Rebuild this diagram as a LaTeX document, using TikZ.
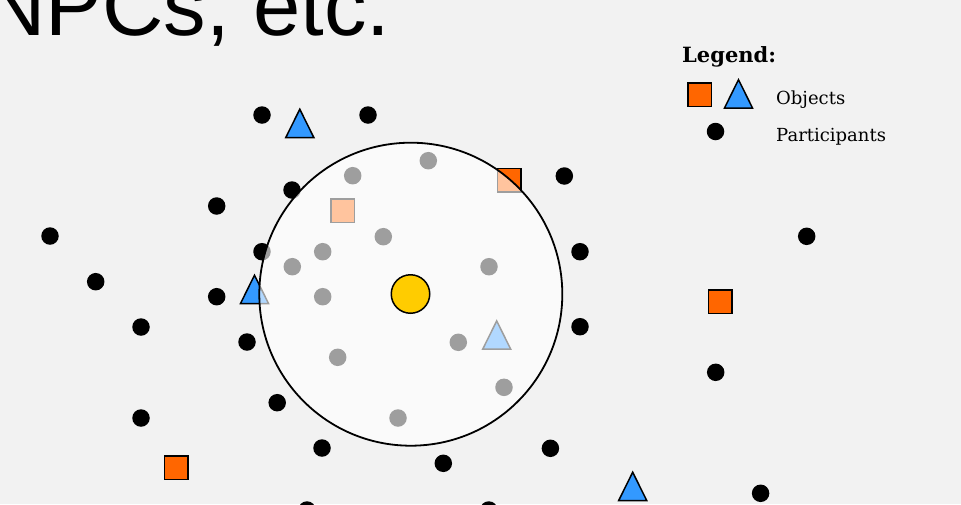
\documentclass[tikz,border=0pt]{standalone}
\usepackage{fontspec}
\setmainfont{DejaVu Serif}
\newfontfamily\titlefont{Liberation Sans}
\definecolor{bgc}{HTML}{F2F2F2}
\definecolor{objorange}{HTML}{FF6600}
\definecolor{objblue}{HTML}{3399FF}
\definecolor{selfyellow}{HTML}{FFCC00}
\tikzset{
  participant/.style={circle, fill=black, minimum size=17.5pt, inner sep=0pt, outer sep=0pt},
  objsquare/.style={rectangle, fill=objorange, draw=black, line width=1.5pt, minimum size=23.5pt, inner sep=0pt},
  objtri/.pic={\draw[fill=objblue, draw=black, line width=1.5pt] (0,-13.8) -- (14,14.5) -- (-14,14.5) -- cycle;},
  rangecircle/.style={circle, fill=white, fill opacity=0.62, draw=black, line width=1.8pt, minimum size=303pt, inner sep=0pt},
  selfnode/.style={circle, fill=selfyellow, draw=black, line width=1.5pt, minimum size=38.5pt, inner sep=0pt},
  legtext/.style={anchor=base west, inner sep=0pt, font=\fontsize{18}{22}\selectfont},
}
\begin{document}
\begin{tikzpicture}[x=1pt, y=-1pt]
\useasboundingbox (0,0) rectangle (961,504);
\fill[bgc] (0,0) rectangle (961,504);
\node[anchor=base west, inner sep=0pt] (title) at (-16,35) {\titlefont\fontsize{85}{95}\selectfont NPCs, etc.};
% participants
\foreach \px/\py [count=\i] in {262/115, 368/115, 292/190, 216.7/206, 50/236, 95.7/281.7, 262/251.7, 216.7/296.7, 141/327, 247/342, 277.2/402.7, 141/418, 322/448, 443.3/463.3, 550.4/448.3, 564.3/176, 580/251.7, 580/326.7, 806.7/236.3, 715.7/372.3, 760.6/493.3, 307/510, 488.8/510, 428.3/160.7, 352.7/175.7, 383.3/236.7, 322.7/251.7, 292.3/266.7, 489/266.7, 322.7/296.7, 458.3/342.3, 337.7/357.3, 504/387.3, 398/418}
  {\node[participant] (p\i) at (\px,\py) {};}
% objects: squares
\foreach \px/\py [count=\i] in {342.5/210.8, 509/180, 720.3/301.5, 176.3/467.8}
  {\node[objsquare] (s\i) at (\px,\py) {};}
% objects: triangles
\foreach \px/\py [count=\i] in {299.8/123, 254.5/289, 496.7/334.7, 632.7/486}
  {\pic (t\i) at (\px,\py) {objtri};}
% range circle overlay
\node[rangecircle] (range) at (410.8,294.2) {};
\node[selfnode] (self) at (410.5,294) {};
% legend
\node[anchor=base west, inner sep=0pt, font=\bfseries\fontsize{21}{25}\selectfont] (legtitle) at (682,62) {Legend:};
\node[objsquare] (legsq) at (699.5,94.5) {};
\pic (legtri) at (738.5,93.5) {objtri};
\node[participant] (legdot) at (715.5,131.5) {};
\node[legtext] (legobj) at (776,104) {Objects};
\node[legtext] (legpart) at (776,141) {Participants};
\end{tikzpicture}
\end{document}
